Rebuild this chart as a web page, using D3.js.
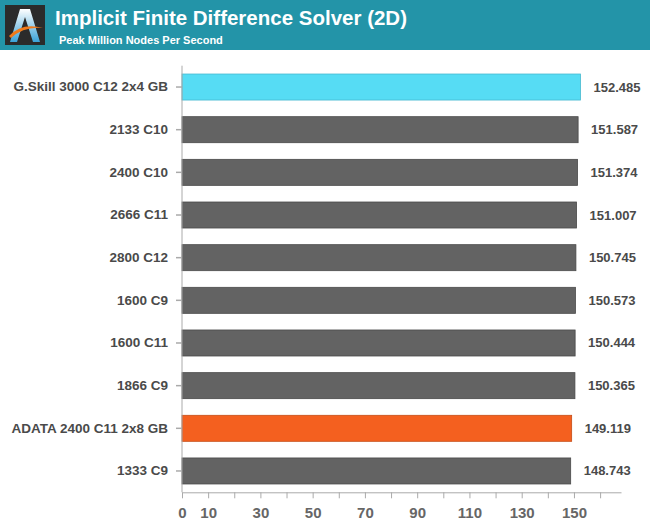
<!DOCTYPE html>
<html><head><meta charset="utf-8">
<script src="https://cdn.jsdelivr.net/npm/d3@7"></script>
<style>body{margin:0;background:#fff;}svg{display:block;font-family:"Liberation Sans",Arial,sans-serif;}</style>
</head><body><svg id="c" width="650" height="525"></svg>
<script>
const categories = ["G.Skill 3000 C12 2x4 GB","2133 C10","2400 C10","2666 C11","2800 C12","1600 C9","1600 C11","1866 C9","ADATA 2400 C11 2x8 GB","1333 C9"];
const values = [152.485,151.587,151.374,151.007,150.745,150.573,150.444,150.365,149.119,148.743];
const highlight = ["cyan","gray","gray","gray","gray","gray","gray","gray","orange","gray"];
const tickValues = [0,10,20,30,40,50,60,70,80,90,100,110,120,130,140,150,160];
const tickLabels = [0,10,30,50,70,90,110,130,150];
const title = "Implicit Finite Difference Solver (2D)";
const subtitle = "Peak Million Nodes Per Second";

const colors = {cyan:"#56dcf4", gray:"#636363", orange:"#f4601f"};
const strokes = {cyan:"#45b8cf", gray:"#4a4a4a", orange:"#c54c16"};

const svg = d3.select("#c");
// header
svg.append("rect").attr("x",0).attr("y",0).attr("width",650).attr("height",50).attr("fill","#2394a8");
const logo = svg.append("g");
logo.append("rect").attr("x",5).attr("y",5).attr("width",40).attr("height",40).attr("fill","#2b2b2b");
const lg = svg.append("defs").append("linearGradient").attr("id","lg").attr("x1",0).attr("y1",0).attr("x2",0).attr("y2",1);
lg.append("stop").attr("offset","0").attr("stop-color","#ffffff");
lg.append("stop").attr("offset","1").attr("stop-color","#3aa2d8");
logo.append("path").attr("d","M20,9 L30,9 L40,42 L33,42 L25,17 L17,42 L10,42 Z").attr("fill","url(#lg)");
logo.append("path").attr("d","M9,36 Q22,22 43,28 Q24,26 11,38 Z").attr("fill","#f07a1a");
svg.append("text").attr("x",55).attr("y",25).attr("fill","#fff").attr("font-size",20.5).attr("font-weight","bold").text(title);
svg.append("text").attr("x",59).attr("y",44).attr("fill","#fff").attr("font-size",11).attr("font-weight","bold").text(subtitle);

const x = d3.scaleLinear().domain([0,168]).range([182,621]);
const y = d3.scaleBand().domain(categories).range([65.7,492.3]).paddingInner(0.39).paddingOuter(0.195);

// bars
svg.selectAll("rect.bar").data(categories).enter().append("rect")
 .attr("x",x(0)).attr("y",d=>y(d))
 .attr("width",(d,i)=>x(values[i])-x(0)).attr("height",y.bandwidth())
 .attr("fill",(d,i)=>colors[highlight[i]]).attr("stroke",(d,i)=>strokes[highlight[i]]).attr("stroke-width",0.8);

// value labels
svg.selectAll("text.val").data(categories).enter().append("text")
 .attr("x",(d,i)=>x(values[i])+13).attr("y",d=>y(d)+y.bandwidth()/2+4.5)
 .attr("font-size",13).attr("font-weight","bold").attr("fill","#4a4a4a")
 .text((d,i)=>values[i].toFixed(3));

// y axis
const yAxis = svg.append("g").attr("transform","translate(182,0)")
 .call(d3.axisLeft(y).tickSize(6).tickPadding(8));
yAxis.select(".domain").attr("stroke","#aaa").attr("d","M0,65.7V492.3");
yAxis.selectAll(".tick line").attr("stroke","#aaa").attr("stroke-width",1.5);
yAxis.selectAll("text").attr("font-size",13.5).attr("font-weight","bold").attr("fill","#4a4a4a").attr("font-family","Liberation Sans, Arial, sans-serif");

// x axis
const xAxis = svg.append("g").attr("transform","translate(0,492.3)")
 .call(d3.axisBottom(x).tickValues(tickValues).tickSize(6).tickSizeOuter(0).tickPadding(9)
   .tickFormat(v=>tickLabels.includes(v)?String(v):""));
xAxis.select(".domain").attr("stroke","#aaa");
xAxis.selectAll(".tick line").attr("stroke","#aaa");
xAxis.selectAll("text").attr("font-size",15).attr("font-weight","bold").attr("fill","#666").attr("font-family","Liberation Sans, Arial, sans-serif");
</script></body></html>
